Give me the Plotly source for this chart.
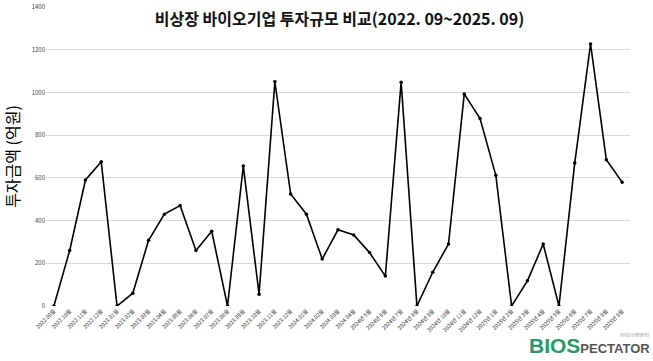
import plotly.graph_objects as go

months = (
    [f"2022.{m:02d}월" for m in range(9, 13)]
    + [f"2023.{m:02d}월" for m in range(1, 13)]
    + [f"2024.{m:02d}월" for m in range(1, 5)]
    + [f"2024년 {m}월" for m in range(5, 13)]
    + [f"2025년 {m}월" for m in range(1, 10)]
)

values = [0, 260, 590, 675, 0, 60, 308, 430, 470, 260, 350, 0, 655, 55,
          1050, 525, 430, 220, 357, 333, 250, 140, 1048, 0, 158, 290, 993,
          878, 612, 0, 118, 290, 0, 670, 1227, 685, 580]

y_ticks = [0, 200, 400, 600, 800, 1000, 1200, 1400]

fig = go.Figure()
fig.add_trace(go.Scatter(
    x=months, y=values, mode="lines+markers",
    line=dict(color="black", width=1.6),
    marker=dict(color="black", size=3.5),
    showlegend=False,
))

fig.update_layout(
    width=653, height=361,
    margin=dict(l=46, r=23, t=7, b=55),
    paper_bgcolor="white", plot_bgcolor="white",
    font=dict(family="Noto Sans CJK KR, Noto Sans, sans-serif"),
    title=dict(
        text="<b>비상장 바이오기업 투자규모 비교(2022. 09~2025. 09)</b>",
        x=0.52, xanchor="center", y=0.945, yanchor="middle",
        font=dict(size=16, color="#111111", family="Noto Sans CJK KR"),
    ),
    xaxis=dict(
        type="category",
        range=[-0.5, len(months) - 0.5],
        autorange=False,
        tickangle=-45,
        automargin=False,
        tickfont=dict(size=5.5, color="#333333", family="Noto Sans CJK KR"),
        showgrid=False, showline=False, zeroline=False,
        ticks="",
    ),
    yaxis=dict(
        range=[0, 1400],
        autorange=False,
        automargin=False,
        tickvals=y_ticks,
        tickfont=dict(size=6, color="#444444"),
        showgrid=True, gridcolor="#d9d9d9", gridwidth=1,
        zeroline=False, showline=False, ticks="",
        title=dict(text="투자금액 (억원)", font=dict(size=16, color="black"), standoff=12),
    ),
)

fig.add_annotation(
    xref="paper", yref="paper", x=1.037, y=-0.177, xanchor="right", yanchor="bottom",
    text="<b><span style='color:#2a9868;font-size:21px'>BIOS</span><span style='color:#555555;font-size:13px'>PECTATOR</span></b>",
    showarrow=False, font=dict(family="Liberation Sans, Arial"),
)
fig.add_annotation(
    xref="paper", yref="paper", x=1.037, y=-0.08, xanchor="right", yanchor="top",
    text="바이오스펙테이터",
    showarrow=False, font=dict(size=4, color="#888888"),
)

fig.write_html("out.html")
